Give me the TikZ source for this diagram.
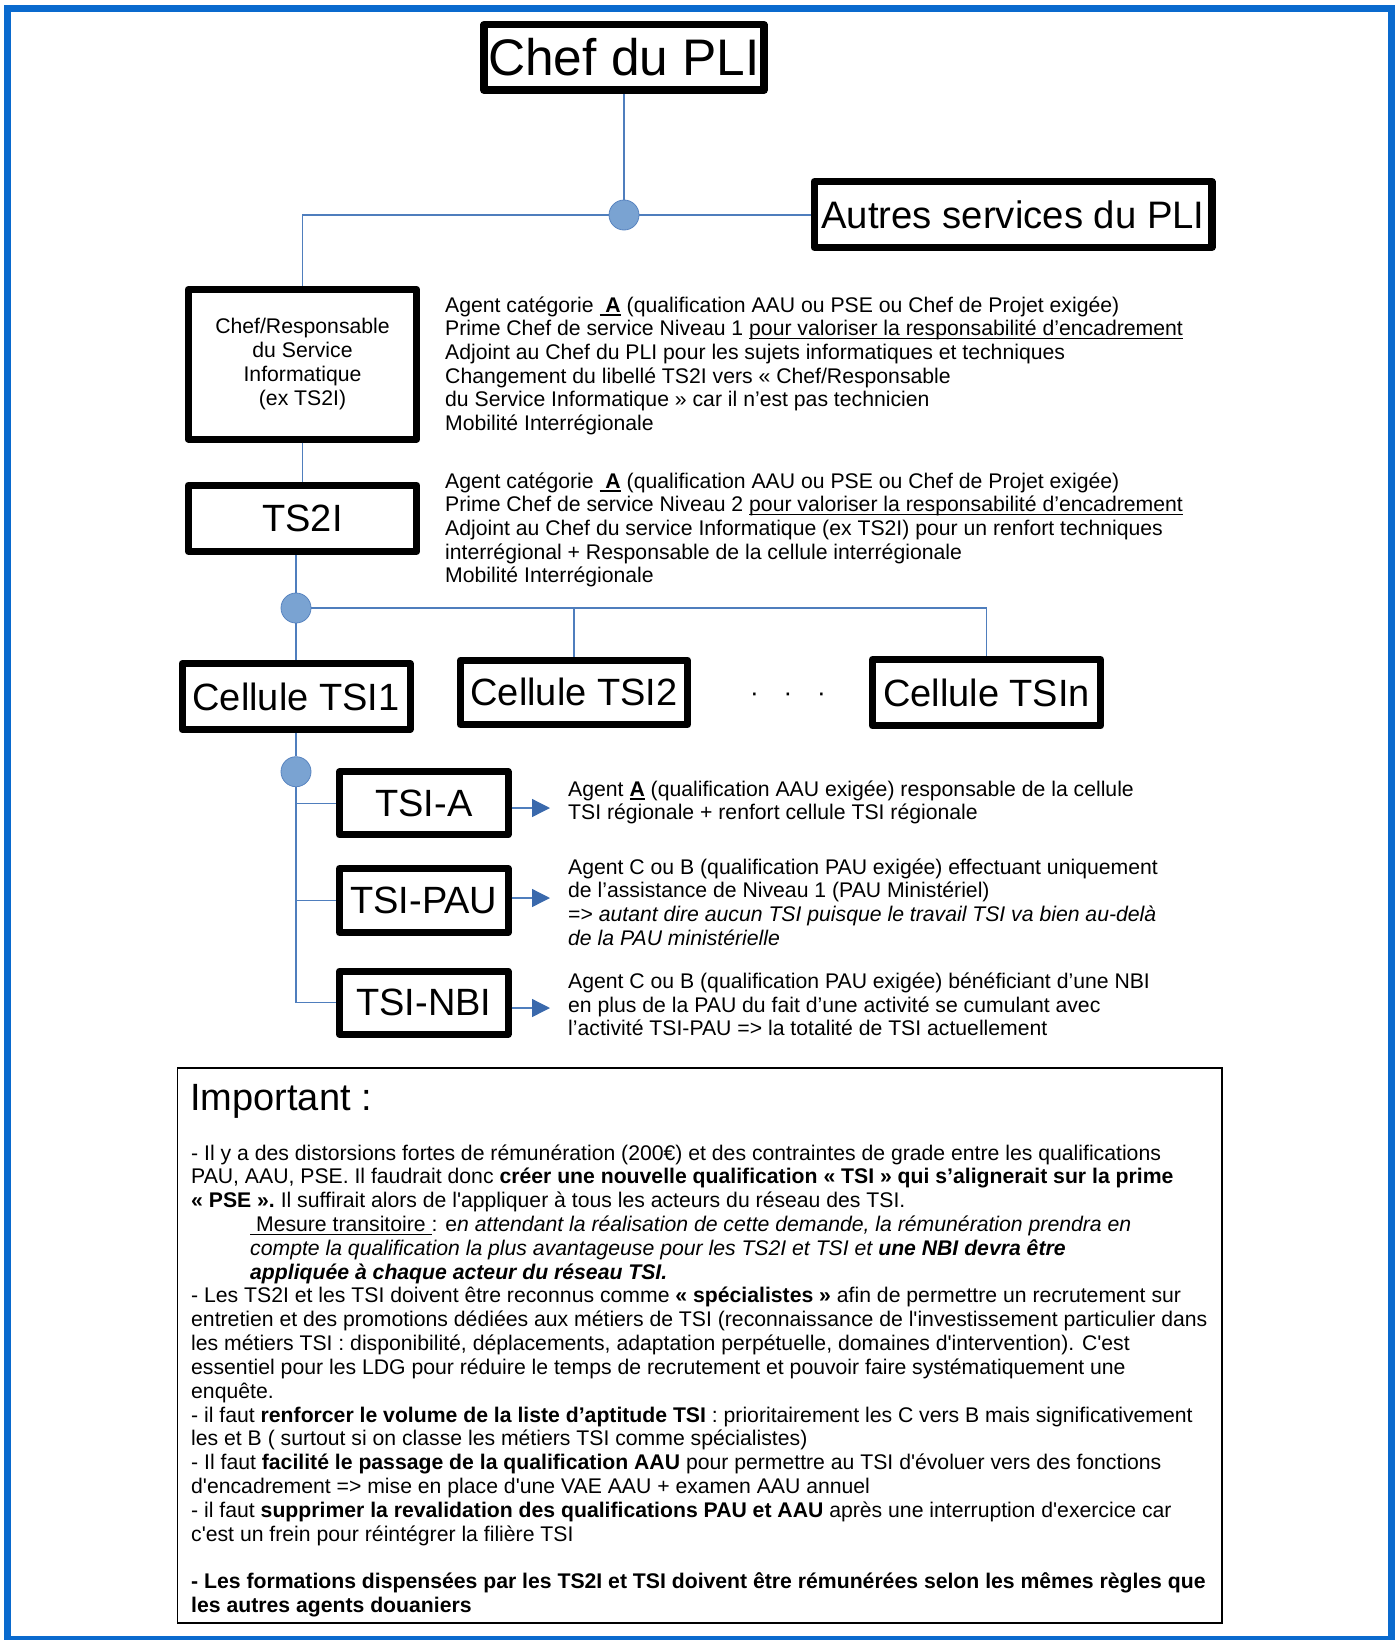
\documentclass[tikz,border=0pt]{standalone}
\usepackage{fontspec}
\setmainfont{Liberation Sans}
\usetikzlibrary{arrows.meta}
\newsavebox\myulbox
\newcommand{\myul}[1]{\sbox\myulbox{#1}\rlap{\rule[-3.6pt]{\wd\myulbox}{1.5pt}}\usebox\myulbox}
\definecolor{framecol}{RGB}{10,106,206}
\definecolor{conncol}{RGB}{79,126,189}
\definecolor{hubfill}{RGB}{122,163,210}
\definecolor{hubdraw}{RGB}{88,132,192}
\definecolor{arrcol}{RGB}{58,105,172}
\tikzset{
  cbox/.style={draw=black, line width=7pt, line join=round, inner sep=0pt, fill=white,
    font=\fontsize{38}{44}\selectfont},
  hubdot/.style={circle, fill=hubfill, draw=hubdraw, line width=0.8pt, minimum size=30pt, inner sep=0pt},
  conn/.style={draw=conncol, line width=1.3pt},
  arrowln/.style={draw=conncol, line width=1.3pt, -{Triangle[length=18pt,width=18pt,color=arrcol]}},
  desctxt/.style={anchor=base west, inner sep=0pt, font=\fontsize{21.2}{24}\selectfont},
  imptxt/.style={anchor=base west, inner sep=0pt, font=\fontsize{21.2}{24}\selectfont},
}
\begin{document}
\begin{tikzpicture}[x=1pt,y=-1pt]
\useasboundingbox (0,0) rectangle (1398,1640);
% outer frame
\draw[framecol, line width=7pt] (7.5,9) rectangle (1391.5,1639.5);

% boxes
\node[cbox, line width=7.5pt, minimum width=280pt, minimum height=65.5pt, font=\fontsize{51.4}{56}\selectfont] (chef) at (624,57.5) {Chef du PLI};
\node[cbox, line width=7.5pt, minimum width=397.5pt, minimum height=65.5pt, font=\fontsize{38.3}{42}\selectfont] (autres) at (1013,214.5) {Autres services du PLI};
\node[cbox, minimum width=228.5pt, minimum height=149.7pt, align=center, font=\fontsize{21.2}{24}\selectfont] (resp) at (302.5,364.3) {\raisebox{-2pt}{\begin{tabular}{@{}c@{}}Chef/Responsable\\du Service\\Informatique\\(ex TS2I)\end{tabular}}};
\node[cbox, minimum width=228.5pt, minimum height=66.3pt] (ts2i) at (302.5,518.3) {TS2I};
\node[cbox, minimum width=228pt, minimum height=66pt] (cell1) at (296,696.5) {Cellule TSI1};
\node[cbox, minimum width=227pt, minimum height=64.3pt] (cell2) at (574,692.3) {Cellule TSI2};
\node[cbox, minimum width=228pt, minimum height=66.3pt] (celln) at (986.5,692.7) {Cellule TSIn};
\node[anchor=base, inner sep=0pt, font=\fontsize{26}{30}\selectfont] (dots) at (788,701.6) {·\hspace{24.8pt}·\hspace{24.8pt}·};
\node[cbox, minimum width=168.6pt, minimum height=63pt] (tsia) at (423.8,803.3) {TSI-A};
\node[cbox, minimum width=168.6pt, minimum height=64pt] (tsipau) at (423.8,900.5) {TSI-PAU};
\node[cbox, minimum width=168.6pt, minimum height=63pt] (tsinbi) at (423.8,1002.7) {TSI-NBI};

% hubs
\node[hubdot] (hub1) at (624,215) {};
\node[hubdot] (hub2) at (296,608) {};
\node[hubdot] (hub3) at (296,771.7) {};

% connectors
\draw[conn] (chef) -- (hub1);
\draw[conn] (hub1) -| (resp);
\draw[conn] (hub1) -- (hub1 -| autres.west);
\draw[conn] (resp) -- (ts2i);
\draw[conn] (ts2i.south -| hub2) -- (hub2);
\draw[conn] (hub2) -- (cell1);
\draw[conn] (hub2) -| (celln);
\draw[conn] (hub2) -| (cell2);
\draw[conn] (cell1) -- (hub3);
\draw[conn] (hub3) |- (tsinbi);
\draw[conn] (hub3) |- (tsia);
\draw[conn] (hub3) |- (tsipau);

% arrows
\coordinate (ta) at (550,808);
\coordinate (tp) at (550,898);
\coordinate (tn) at (550,1008);
\draw[arrowln] (tsia.east |- ta) -- (ta);
\draw[arrowln] (tsipau.east |- tp) -- (tp);
\draw[arrowln] (tsinbi.east |- tn) -- (tn);

% description block 1
\node[desctxt] (d1a) at (445,312) {Agent catégorie \myul{\ \textbf{A}} (qualification AAU ou PSE ou Chef de Projet exigée)};
\node[desctxt] (d1b) at (445,335.7) {Prime Chef de service Niveau 1 \myul{pour valoriser la responsabilité d’encadrement}};
\node[desctxt] (d1c) at (445,359.4) {Adjoint au Chef du PLI pour les sujets informatiques et techniques};
\node[desctxt] (d1d) at (445,383.1) {Changement du libellé TS2I vers « Chef/Responsable};
\node[desctxt] (d1e) at (445,406.8) {du Service Informatique » car il n’est pas technicien};
\node[desctxt] (d1f) at (445,430.5) {Mobilité Interrégionale};

% description block 2
\node[desctxt] (d2a) at (445,488) {Agent catégorie \myul{\ \textbf{A}} (qualification AAU ou PSE ou Chef de Projet exigée)};
\node[desctxt] (d2b) at (445,511.7) {Prime Chef de service Niveau 2 \myul{pour valoriser la responsabilité d’encadrement}};
\node[desctxt] (d2c) at (445,535.4) {Adjoint au Chef du service Informatique (ex TS2I) pour un renfort techniques};
\node[desctxt] (d2d) at (445,559.1) {interrégional + Responsable de la cellule interrégionale};
\node[desctxt] (d2e) at (445,582.8) {Mobilité Interrégionale};

% TSI-A text
\node[desctxt] (d3a) at (568,796) {Agent \myul{\textbf{A}} (qualification AAU exigée) responsable de la cellule};
\node[desctxt] (d3b) at (568,819.7) {TSI régionale + renfort cellule TSI régionale};
% TSI-PAU text
\node[desctxt] (d4a) at (568,874) {Agent C ou B (qualification PAU exigée) effectuant uniquement};
\node[desctxt] (d4b) at (568,897.7) {de l’assistance de Niveau 1 (PAU Ministériel)};
\node[desctxt] (d4c) at (568,921.4) {=> \textit{autant dire aucun TSI puisque le travail TSI va bien au-delà}};
\node[desctxt] (d4d) at (568,945.1) {\textit{de la PAU ministérielle}};
% TSI-NBI text
\node[desctxt] (d5a) at (568,988.5) {Agent C ou B (qualification PAU exigée) bénéficiant d’une NBI};
\node[desctxt] (d5b) at (568,1012.2) {en plus de la PAU du fait d’une activité se cumulant avec};
\node[desctxt] (d5c) at (568,1035.9) {l’activité TSI-PAU => la totalité de TSI actuellement};

% Important box
\node[draw=black, line width=1.5pt, minimum width=1044.5pt, minimum height=555pt, inner sep=0pt] (imp) at (699.75,1345.5) {};
\node[anchor=base west, inner sep=0pt, font=\fontsize{38}{44}\selectfont] (imptitle) at (190,1110) {Important :};
\node[imptxt] (i00) at (191,1160) {- Il y a des distorsions fortes de rémunération (200€) et des contraintes de grade entre les qualifications};
\node[imptxt] (i01) at (191,1183.83) {PAU, AAU, PSE. Il faudrait donc \textbf{créer une nouvelle qualification « TSI » qui s’alignerait sur la prime}};
\node[imptxt] (i02) at (191,1207.66) {\textbf{« PSE ».} Il suffirait alors de l\textquotesingle appliquer à tous les acteurs du réseau des TSI.};
\node[imptxt] (i03) at (250,1231.49) {\myul{\ Mesure transitoire\ }: e\textit{n attendant la réalisation de cette demande, la rémunération prendra en}};
\node[imptxt] (i04) at (250,1255.32) {\textit{compte la qualification la plus avantageuse pour les TS2I et TSI et \textbf{une NBI devra être}}};
\node[imptxt] (i05) at (250,1279.15) {\textbf{\textit{appliquée à chaque acteur du réseau TSI.}}};
\node[imptxt] (i06) at (191,1302.98) {- Les TS2I et les TSI doivent être reconnus comme \textbf{« spécialistes »} afin de permettre un recrutement sur};
\node[imptxt] (i07) at (191,1326.81) {entretien et des promotions dédiées aux métiers de TSI (reconnaissance de l\textquotesingle investissement particulier dans};
\node[imptxt] (i08) at (191,1350.64) {les métiers TSI : disponibilité, déplacements, adaptation perpétuelle, domaines d\textquotesingle intervention). C\textquotesingle est};
\node[imptxt] (i09) at (191,1374.47) {essentiel pour les LDG pour réduire le temps de recrutement et pouvoir faire systématiquement une};
\node[imptxt] (i10) at (191,1398.3) {enquête.};
\node[imptxt] (i11) at (191,1422.13) {- il faut \textbf{renforcer le volume de la liste d’aptitude TSI} : prioritairement les C vers B mais significativement};
\node[imptxt] (i12) at (191,1445.96) {les et B ( surtout si on classe les métiers TSI comme spécialistes)};
\node[imptxt] (i13) at (191,1469.79) {- Il faut \textbf{facilité le passage de la qualification AAU} pour permettre au TSI d\textquotesingle évoluer vers des fonctions};
\node[imptxt] (i14) at (191,1493.62) {d\textquotesingle encadrement => mise en place d\textquotesingle une VAE AAU + examen AAU annuel};
\node[imptxt] (i15) at (191,1517.45) {- il faut \textbf{supprimer la revalidation des qualifications PAU et AAU} après une interruption d\textquotesingle exercice car};
\node[imptxt] (i16) at (191,1541.28) {c\textquotesingle est un frein pour réintégrer la filière TSI};
\node[imptxt] (i18) at (191,1588.94) {\textbf{- Les formations dispensées par les TS2I et TSI doivent être rémunérées selon les mêmes règles que}};
\node[imptxt] (i19) at (191,1612.77) {\textbf{les autres agents douaniers}};
\end{tikzpicture}
\end{document}
